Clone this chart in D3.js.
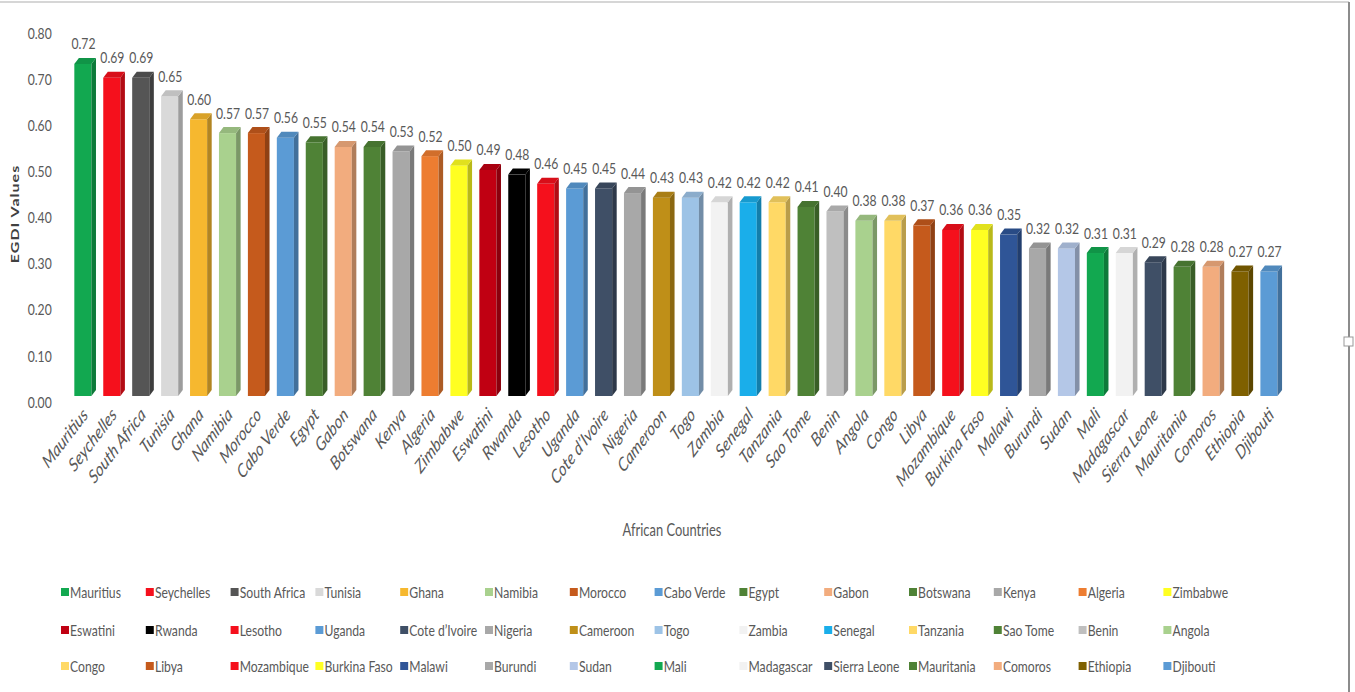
<!DOCTYPE html>
<html>
<head>
<meta charset="utf-8">
<script src="https://cdn.jsdelivr.net/npm/d3@7"></script>
<style>
  body { margin: 0; background: #fff; }
  text { font-family: Lato, "Open Sans", sans-serif; fill: #595959; }
</style>
</head>
<body>
<svg id="chart"></svg>
<script>
var width = 1355;
var height = 692;
// the source picture is squeezed sideways, so draw wide and scale x down
var squeeze = 0.76;

var countries = ["Mauritius", "Seychelles", "South Africa", "Tunisia", "Ghana", "Namibia", "Morocco",
  "Cabo Verde", "Egypt", "Gabon", "Botswana", "Kenya", "Algeria", "Zimbabwe",
  "Eswatini", "Rwanda", "Lesotho", "Uganda", "Cote d\u2019Ivoire", "Nigeria", "Cameroon",
  "Togo", "Zambia", "Senegal", "Tanzania", "Sao Tome", "Benin", "Angola",
  "Congo", "Libya", "Mozambique", "Burkina Faso", "Malawi", "Burundi", "Sudan",
  "Mali", "Madagascar", "Sierra Leone", "Mauritania", "Comoros", "Ethiopia", "Djibouti"];

var egdi = [0.72, 0.69, 0.69, 0.65, 0.60, 0.57, 0.57,
  0.56, 0.55, 0.54, 0.54, 0.53, 0.52, 0.50,
  0.49, 0.48, 0.46, 0.45, 0.45, 0.44, 0.43,
  0.43, 0.42, 0.42, 0.42, 0.41, 0.40, 0.38,
  0.38, 0.37, 0.36, 0.36, 0.35, 0.32, 0.32,
  0.31, 0.31, 0.29, 0.28, 0.28, 0.27, 0.27];

var colors = ["#12a850", "#f5101c", "#555555", "#d9d9d9", "#f6b82f", "#a9d18e", "#c55a1c",
  "#5b9bd5", "#4f8236", "#f2ac7e", "#4f8236", "#a8a8a8", "#ed7d31", "#ffff22",
  "#c00012", "#000000", "#f5101c", "#5b9bd5", "#3f4f66", "#a8a8a8", "#bf8f18",
  "#9dc3e6", "#f2f2f2", "#1aaeea", "#ffd966", "#4f8236", "#bfbfbf", "#a9d18e",
  "#ffd966", "#c55a1c", "#f5101c", "#ffff22", "#2f5597", "#a8a8a8", "#b4c7e7",
  "#12a850", "#f2f2f2", "#3f4f66", "#4f8236", "#f2ac7e", "#7f6000", "#5b9bd5"];

var yTicks = [0, 0.1, 0.2, 0.3, 0.4, 0.5, 0.6, 0.7, 0.8];

var svg = d3.select("#chart").attr("width", width).attr("height", height);
var g = svg.append("g").attr("transform", "scale(" + squeeze + ",1)");

var x = d3.scaleBand().domain(countries).range([70.5 / squeeze, 1285.5 / squeeze]);
var y = d3.scaleLinear().domain([0, 0.8]).range([396, 27]);

var dx = 6, dy = 6;

function centre(name) {
  return x(name) + x.bandwidth() / 2;
}

var bars = g.selectAll(".bar").data(countries).enter().append("g").attr("class", "bar");

// front face
bars.append("rect")
  .attr("x", function(d) { return centre(d) - 14; })
  .attr("y", function(d, i) { return y(egdi[i]); })
  .attr("width", 22.5)
  .attr("height", function(d, i) { return y(0) - y(egdi[i]); })
  .attr("fill", function(d, i) { return colors[i]; });

// right side
bars.append("path")
  .attr("d", function(d, i) {
    var r = centre(d) + 8.5, t = y(egdi[i]), b = y(0);
    return "M" + r + "," + t + "L" + (r + dx) + "," + (t - dy) + "L" + (r + dx) + "," + (b - dy) + "L" + r + "," + b + "Z";
  })
  .attr("fill", function(d, i) { return d3.color(colors[i]).darker(0.9); });

// top
bars.append("path")
  .attr("d", function(d, i) {
    var l = centre(d) - 14, r = centre(d) + 8.5, t = y(egdi[i]);
    return "M" + l + "," + t + "L" + (l + dx) + "," + (t - dy) + "L" + (r + dx) + "," + (t - dy) + "L" + r + "," + t + "Z";
  })
  .attr("fill", function(d, i) { return d3.color(colors[i]).darker(0.35); });

// value labels
bars.append("text")
  .attr("x", function(d) { return centre(d) - 2; })
  .attr("y", function(d, i) { return y(egdi[i]) - 14.5; })
  .attr("text-anchor", "middle")
  .style("font-size", "16px")
  .text(function(d, i) { return d3.format(".2f")(egdi[i]); });

// y axis
var yAxis = g.append("g")
  .attr("transform", "translate(70,6)")
  .call(d3.axisLeft(y).tickValues(yTicks).tickFormat(d3.format(".2f")).tickSize(0).tickPadding(2));
yAxis.select(".domain").remove();
yAxis.selectAll("text").style("font-size", "16px").style("fill", "#595959");

// x labels
g.selectAll(".xlab").data(countries).enter().append("text")
  .attr("class", "xlab")
  .attr("transform", function(d) { return "translate(" + (centre(d) + 5) + ",416) rotate(-45)"; })
  .attr("text-anchor", "end")
  .style("font-size", "19px")
  .style("font-style", "italic")
  .text(function(d) { return d; });

// axis titles
g.append("text")
  .attr("transform", "translate(25,214) rotate(-90)")
  .attr("text-anchor", "middle")
  .style("font-size", "16px")
  .style("font-weight", "bold")
  .style("letter-spacing", "1px")
  .style("fill", "#404040")
  .text("EGDI Values");

g.append("text")
  .attr("x", 672 / squeeze)
  .attr("y", 536)
  .attr("text-anchor", "middle")
  .style("font-size", "17px")
  .text("African Countries");

// legend, 14 per row
var rowY = [592, 630, 666];
var legend = g.selectAll(".leg").data(countries).enter().append("g")
  .attr("class", "leg")
  .attr("transform", function(d, i) {
    return "translate(" + (61 + (i % 14) * 84.8) / squeeze + "," + rowY[Math.floor(i / 14)] + ")";
  });
legend.append("rect")
  .attr("x", 0).attr("y", -4)
  .attr("width", 10.5).attr("height", 8)
  .attr("fill", function(d, i) { return colors[i]; });
legend.append("text")
  .attr("x", 12)
  .attr("y", 5.5)
  .style("font-size", "16px")
  .text(function(d) { return d; });

// frame of the picture
svg.append("line").attr("x1", 0).attr("x2", 1349).attr("y1", 2).attr("y2", 2)
  .attr("stroke", "#d6d6d6").attr("stroke-width", 2);
svg.append("line").attr("x1", 1349).attr("x2", 1349).attr("y1", 2).attr("y2", height)
  .attr("stroke", "#8c8c8c").attr("stroke-width", 2);
svg.append("rect").attr("x", 1344).attr("y", 337).attr("width", 9).attr("height", 9)
  .attr("fill", "#fff").attr("stroke", "#999");
</script>
</body>
</html>
